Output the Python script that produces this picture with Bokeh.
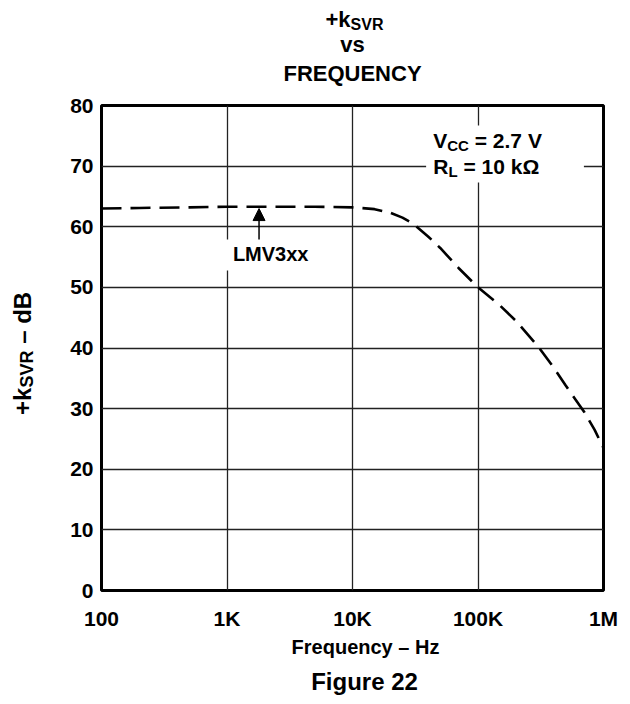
import math
from bokeh.plotting import figure
from bokeh.layouts import column, row
from bokeh.models import FixedTicker, Label, Arrow, NormalHead, BoxAnnotation
from bokeh.embed import file_html
from bokeh.resources import INLINE

# ---- data ----
freq_hz = [100, 200, 500, 1000, 2000, 5000, 10000, 15000, 20000, 25000, 30000,
           40000, 50000, 70000, 100000, 150000, 200000, 300000, 400000, 500000,
           700000, 850000, 1000000]
ksvr_db = [63.0, 63.1, 63.2, 63.3, 63.3, 63.3, 63.2, 62.9, 62.3, 61.5, 60.6,
           58.4, 56.5, 53.2, 50.0, 47.0, 44.5, 40.3, 36.8, 33.8,
           29.5, 26.5, 23.5]
x_ticks = [100, 1000, 10000, 100000, 1000000]
x_tick_labels = ["100", "1K", "10K", "100K", "1M"]
y_ticks = [0, 10, 20, 30, 40, 50, 60, 70, 80]

FONT = "Liberation Sans"

# ---- text helpers ----
W = {'+': .584, 'k': .556, 'S': .667, 'V': .667, 'R': .722, ' ': .278, '–': .556,
     'd': .611, 'B': .722, 'C': .722, '=': .584, '2': .556, '.': .278, '7': .556,
     'L': .611, '1': .556, '0': .556, 'Ω': .768, 'v': .556, 's': .556}
BASE_FIX = 0.43  # empirical correction of the rendered baseline, in em


def tw(s, size):
    return sum(W.get(c, .6) for c in s) * size


def lab(fig, x, y, s, size, angle=0.0, align="left", units="data", xo=0, yo=0):
    lead = len(s) - len(s.lstrip(" "))
    pad = tw(" " * lead, size)
    s = s.strip(" ")
    if angle:
        yo2, xo2 = yo + pad, xo - BASE_FIX * size
    else:
        xo2, yo2 = xo + pad, yo + BASE_FIX * size
    fig.add_layout(Label(x=x, y=y, x_units=units, y_units=units, text=s,
                         x_offset=xo2, y_offset=yo2,
                         text_font=FONT, text_font_size=f"{size}px", text_font_style="bold",
                         text_color="black", angle=angle, text_align=align,
                         text_baseline="alphabetic"))


def rich(fig, x, y, parts, size, sub_size, drop=5, center=False, vertical=False, units="data"):
    total = sum(tw(t, sub_size if sb else size) for t, sb in parts)
    off = -(total / 2 if center else 0)
    for t, sb in parts:
        s = sub_size if sb else size
        fix = BASE_FIX * (size - s)  # keep sub-parts relative to main baseline
        if vertical:
            lab(fig, x, y, t, s, angle=math.pi / 2, units=units,
                xo=(drop if sb else 0) - fix, yo=off)
        else:
            lab(fig, x, y, t, s, units=units, xo=off, yo=-(drop if sb else 0) + fix)
        off += tw(t, s)


def blank(w, h):
    f = figure(width=w, height=h, x_range=(0, w), y_range=(0, h),
               x_axis_location=None, y_axis_location=None,
               output_backend="svg", toolbar_location=None, min_border=0)
    f.outline_line_color = None
    f.grid.visible = False
    f.background_fill_color = "white"
    f.border_fill_color = "white"
    return f


# ---- main chart ----
p = figure(width=562, height=540, x_axis_type="log", x_range=(100, 1e6), y_range=(0, 80),
           output_backend="svg", toolbar_location=None,
           min_border_left=41, min_border_right=19, min_border_top=13, min_border_bottom=42)
p.background_fill_color = "white"
p.border_fill_color = "white"
p.outline_line_color = "black"
p.outline_line_width = 3

p.xaxis.ticker = FixedTicker(ticks=x_ticks, minor_ticks=[])
p.xaxis.major_label_overrides = {float(t): l for t, l in zip(x_ticks, x_tick_labels)}
p.yaxis.ticker = FixedTicker(ticks=y_ticks, minor_ticks=[])
for ax in (p.xaxis[0], p.yaxis[0]):
    ax.axis_line_color = None
    ax.major_tick_line_color = None
    ax.minor_tick_line_color = None
    ax.major_tick_out = 0
    ax.major_tick_in = 0
    ax.major_label_text_font = FONT
    ax.major_label_text_font_style = "bold"
    ax.major_label_text_font_size = "21px"
    ax.major_label_text_color = "black"
p.xaxis.major_label_standoff = 16
p.yaxis.major_label_standoff = 8

p.xgrid.ticker = FixedTicker(ticks=x_ticks)
p.ygrid.ticker = FixedTicker(ticks=y_ticks)
for g in (p.xgrid[0], p.ygrid[0]):
    g.grid_line_color = "#222222"
    g.grid_line_width = 1.3

p.line(freq_hz, ksvr_db, line_color="black", line_width=2.6, line_dash="20 9")

# white boxes behind annotation text (they break the grid lines in the reference)
p.add_layout(BoxAnnotation(left=38600, right=698000, bottom=67.3, top=76.7,
                           fill_color="white", fill_alpha=1.0, line_color=None))
p.add_layout(BoxAnnotation(left=898, right=5050, bottom=52.8, top=57.9,
                           fill_color="white", fill_alpha=1.0, line_color=None))

p.add_layout(Arrow(end=NormalHead(size=12, fill_color="black", line_color="black"),
                   x_start=1800, y_start=57.9, x_end=1800, y_end=63.0,
                   line_color="black", line_width=1.5))

rich(p, 44000, 72.8, [("V", False), ("CC", True), (" = 2.7 V", False)], 21, 15, drop=5)
rich(p, 44000, 68.5, [("R", False), ("L", True), (" = 10 kΩ", False)], 21, 15, drop=5)
lab(p, 1114, 54.1, "LMV3xx", 20)

# ---- title panel ----
t = blank(622, 92)
rich(t, 354, 64, [("+k", False), ("SVR", True)], 22, 16, drop=5, center=True)
lab(t, 352, 39, "vs", 22, align="center")
lab(t, 352, 10, "FREQUENCY", 22, align="center")

# ---- y label panel ----
yl = blank(60, 540)
rich(yl, 32, 264, [("+k", False), ("SVR", True), (" – dB", False)], 24, 18, drop=5,
     center=True, vertical=True)

# ---- bottom panel ----
b = blank(622, 70)
lab(b, 365, 47, "Frequency – Hz", 20, align="center")
lab(b, 364, 11, "Figure 22", 24, align="center")

layout = column(t, row(yl, p), b)
open("out.html", "w").write(file_html(layout, INLINE))
